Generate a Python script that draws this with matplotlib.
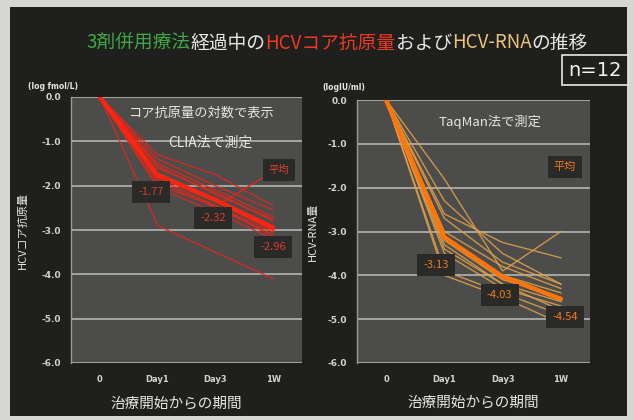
import matplotlib
matplotlib.use("Agg")
import matplotlib.pyplot as plt
from matplotlib.patches import Rectangle

plt.rcParams['font.family'] = ['Noto Sans CJK JP', 'DejaVu Sans']

# ---- data ----
categories = ["0", "Day1", "Day3", "1W"]

# HCV core antigen (log fmol/L), change from baseline, one row per patient
core_patients = [
    [0.0, -1.30, -1.75, -2.45],
    [0.0, -1.40, -2.00, -2.55],
    [0.0, -1.50, -2.10, -2.70],
    [0.0, -1.55, -2.20, -2.75],
    [0.0, -1.60, -2.15, -2.80],
    [0.0, -1.70, -2.30, -2.90],
    [0.0, -1.75, -2.35, -3.00],
    [0.0, -1.85, -2.45, -3.05],
    [0.0, -1.90, -2.50, -3.10],
    [0.0, -2.00, -2.45, -3.15],
    [0.0, -2.05, -2.60, -3.20],
    [0.0, -2.90, -3.50, -4.10],
]
core_mean = [0.0, -1.77, -2.32, -2.96]

# HCV-RNA (log IU/ml), change from baseline, one row per patient
rna_patients = [
    [0.0, -2.60, -3.25, -3.60],
    [0.0, -1.80, -3.90, -3.00],
    [0.0, -2.30, -3.50, -4.20],
    [0.0, -2.70, -3.70, -4.20],
    [0.0, -3.00, -3.80, -4.30],
    [0.0, -3.10, -4.00, -4.40],
    [0.0, -3.20, -4.10, -4.50],
    [0.0, -3.30, -4.20, -4.60],
    [0.0, -3.40, -4.20, -4.80],
    [0.0, -3.50, -4.30, -4.70],
    [0.0, -3.90, -4.40, -4.90],
    [0.0, -4.00, -4.50, -5.10],
]
rna_mean = [0.0, -3.13, -4.03, -4.54]

yticks = [0.0, -1.0, -2.0, -3.0, -4.0, -5.0, -6.0]

# ---- figure ----
W, H = 633, 420
fig = plt.figure(figsize=(W / 100, H / 100), dpi=100, facecolor="#d6d6d4")
fig.patches.append(Rectangle((10 / W, 4 / H), 617 / W, 409 / H, transform=fig.transFigure,
                             facecolor="#1f1f1d", edgecolor="none", zorder=-10))

def px(x, y):
    return x / W, 1 - y / H

PLOT_BG = "#4c4c4a"
GRID = "#b4b4b2"
TXT = "#e6e6e4"


def panel(rect, patients, mean, thin_color, mean_color, unit, unit_pos, ylabel, ylabel_x, xlabel_x):
    ax = fig.add_axes(rect, facecolor=PLOT_BG, zorder=2)
    xs = list(range(len(categories)))
    for row in patients:
        ax.plot(xs, row, color=thin_color, lw=1.0, alpha=0.85, zorder=3)
    ax.plot(xs, mean, color=mean_color, lw=3.2, zorder=4, solid_capstyle="round")
    ax.set_xlim(-0.5, 3.5)
    ax.set_ylim(-6.0, 0.0)
    ax.set_yticks(yticks)
    ax.set_yticklabels([f"{v:.1f}" for v in yticks], color="#d2d2d0", fontsize=6.5,
                       fontweight="bold", family="DejaVu Sans")
    ax.set_xticks(xs)
    ax.set_xticklabels(categories, color="#d2d2d0", fontsize=6, fontweight="bold",
                       family="DejaVu Sans")
    ax.tick_params(axis="y", length=0, pad=7)
    ax.tick_params(axis="x", length=0, pad=9)
    ax.yaxis.grid(True, color=GRID, lw=1.2, zorder=1)
    ax.set_axisbelow(True)
    for s in ("top", "right", "bottom"):
        ax.spines[s].set_visible(False)
    ax.spines["left"].set_color("#9a9a98")
    ax.spines["left"].set_linewidth(1.0)
    ax.set_xlabel("治療開始からの期間", color=TXT, fontsize=10.5)
    ax.xaxis.set_label_coords(xlabel_x, -0.125)
    ax.set_ylabel(ylabel, color=TXT, fontsize=8)
    ax.yaxis.set_label_coords(ylabel_x, 0.5)
    ax.text(unit_pos[0], unit_pos[1], unit, transform=ax.transAxes, color=TXT, fontsize=5.5,
            fontweight="bold", family="DejaVu Sans", ha="center", va="center")
    return ax


def value_box(ax, x, y, text, color, fontsize=8):
    ax.text(x, y, text, color=color, fontsize=fontsize, ha="center", va="center", zorder=6,
            bbox=dict(boxstyle="square,pad=0.55", facecolor="#2a2a28", edgecolor="none"))


# left panel: core antigen
axL = panel([71 / W, 57 / H, 231 / W, 266 / H], core_patients, core_mean,
            "#e0281c", "#ff2410", "(log fmol/L)", (-0.078, 1.038),
            "HCVコア抗原量", -0.186, 0.455)
axL.text(1.77, -0.36, "コア抗原量の対数で表示", color=TXT, fontsize=9.5, ha="center", va="center")
axL.text(1.91, -1.03, "CLIA法で測定", color=TXT, fontsize=10, ha="center", va="center")
# leader line from the mean label to the mean curve
axL.plot([2.85, 2.15], [-1.8, -2.35], color="#e0281c", lw=1.0, zorder=3)
value_box(axL, 3.1, -1.65, "平均", "#e0402a", 7.5)
value_box(axL, 0.885, -2.14, f"{core_mean[1]:.2f}", "#d8402c")
value_box(axL, 1.96, -2.73, f"{core_mean[2]:.2f}", "#d8402c")
value_box(axL, 3.0, -3.39, f"{core_mean[3]:.2f}", "#d8402c")

# right panel: HCV-RNA
axR = panel([357 / W, 57 / H, 233 / W, 263 / H], rna_patients, rna_mean,
            "#e2a24a", "#ff7408", "(logIU/ml)", (-0.056, 1.049),
            "HCV-RNA量", -0.167, 0.5)
axR.text(1.78, -0.5, "TaqMan法で測定", color=TXT, fontsize=9.5, ha="center", va="center")
value_box(axR, 3.07, -1.53, "平均", "#f07a1a", 8)
value_box(axR, 0.856, -3.77, f"{rna_mean[1]:.2f}", "#f07a1a")
value_box(axR, 1.95, -4.45, f"{rna_mean[2]:.2f}", "#f07a1a")
value_box(axR, 3.07, -4.95, f"{rna_mean[3]:.2f}", "#f07a1a")

# multicolour title
title_parts = [
    ("3剤併用療法", "#3fa847"),
    ("経過中の", "#e8e8e6"),
    ("HCVコア抗原量", "#ef3a22"),
    ("および", "#e8e8e6"),
    ("HCV-RNA", "#e9c47a"),
    ("の推移", "#e8e8e6"),
]
fig.canvas.draw()
renderer = fig.canvas.get_renderer()
x0, y0 = px(86, 43)
pieces = []
total = 0.0
for s, c in title_parts:
    t = fig.text(0, y0, s, color=c, fontsize=13.5, ha="left", va="center")
    w = t.get_window_extent(renderer).width
    pieces.append((t, w))
    total += w
cx = 337 - total / 2
for t, w in pieces:
    t.set_x(cx / W)
    cx += w

# sample size box
nx, ny = px(595, 70)
fig.text(nx, ny, "n=12", color="#f2f2f0", fontsize=14, ha="center", va="center",
         family="DejaVu Sans",
         bbox=dict(boxstyle="square,pad=0.3", facecolor="#1f1f1d", edgecolor="#e8e8e6", lw=1.2))

fig.savefig("out.png", dpi=100, facecolor=fig.get_facecolor())
